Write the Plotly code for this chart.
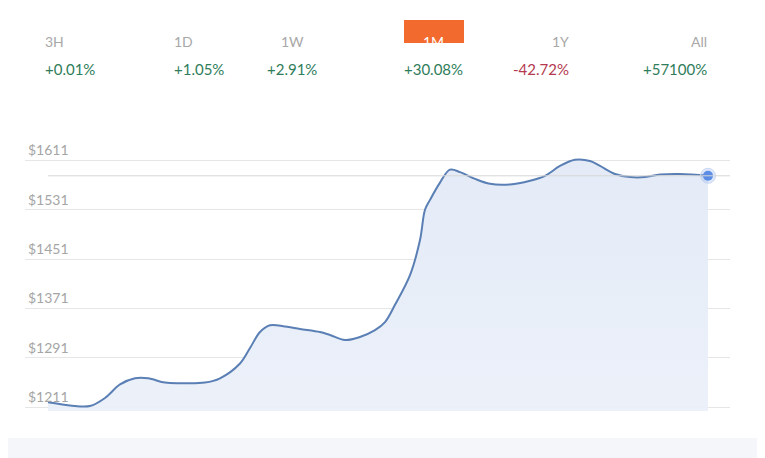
import plotly.graph_objects as go

# price history (x = time step, y = price in $)
steps = [48, 70, 90, 105, 120, 135, 148, 165, 180, 205, 220, 240, 250, 260, 270, 285,
         300, 320, 330, 345, 360, 375, 385, 395, 410, 420, 425, 430, 440, 450, 460,
         475, 490, 510, 530, 545, 560, 575, 590, 600, 615, 630, 645, 660, 680, 708]
prices = [1219, 1214, 1213, 1226, 1248, 1258, 1258, 1251, 1250, 1251, 1258, 1282,
          1307, 1333, 1344, 1342, 1338, 1333, 1328, 1320, 1325, 1336, 1349, 1377,
          1425, 1482, 1531, 1547, 1575, 1596, 1592, 1581, 1573, 1572, 1578, 1586,
          1602, 1612, 1610, 1602, 1589, 1584, 1584, 1588, 1589, 1586]

tick_vals = [1211, 1291, 1371, 1451, 1531, 1611, 1691]
tick_text = ["$" + str(v) for v in tick_vals]

periods = ["3H", "1D", "1W", "1M", "1Y", "All"]
changes = ["+0.01%", "+1.05%", "+2.91%", "+30.08%", "-42.72%", "+57100%"]
active = "1M"


def px(x):
    return (x - 25) / 705


def py(y):
    return (411 - y) / 300


fig = go.Figure()
fig.add_trace(go.Scatter(
    x=steps, y=prices, mode="lines", line=dict(color="#5a7fb5", width=2, shape="spline"),
    fill="tozeroy",
    fillgradient=dict(type="vertical", colorscale=[[0, "rgba(255,255,255,0)"], [0.3, "rgba(245,248,252,0.8)"],
                                                   [1, "rgba(228,235,247,1)"]]),
    hoverinfo="skip"))
fig.add_trace(go.Scatter(
    x=[steps[-1]], y=[prices[-1]], mode="markers",
    marker=dict(size=15, color="rgba(91,141,230,0.2)", line=dict(color="#c9d8f3", width=1)),
    hoverinfo="skip"))
fig.add_trace(go.Scatter(
    x=[steps[-1]], y=[prices[-1]], mode="markers",
    marker=dict(size=10, color="#5b8de6"), hoverinfo="skip"))

fig.add_shape(type="line", xref="x", yref="y", x0=steps[0], x1=730,
              y0=prices[-1], y1=prices[-1], line=dict(color="#d6d6d6", width=1))
fig.add_shape(type="rect", xref="paper", yref="paper", x0=px(-10), x1=px(780), y0=py(438), y1=py(460),
              fillcolor="#f4f6f9", line_width=0, layer="below")

xs = [43, 172, 292, 434, 571, 709]
for i, (p, c) in enumerate(zip(periods, changes)):
    if p == active:
        fig.add_shape(type="rect", xref="paper", yref="paper",
                      x0=px(404), x1=px(464), y0=py(43), y1=py(20),
                      fillcolor="#f26a2e", line_width=0, layer="below")
    fig.add_annotation(x=px(xs[i]), y=py(31), xref="paper", yref="paper",
                       text=p, showarrow=False,
                       font=dict(size=14, color="white" if p == active else "#a8a8a8"))
    fig.add_annotation(x=px(xs[i]), y=py(58), xref="paper", yref="paper",
                       text=c, showarrow=False,
                       font=dict(size=15, color="#b5394f" if c.startswith("-") else "#2f7d5a"))

fig.update_layout(
    width=757, height=450, margin=dict(l=17, r=35, t=103, b=47),
    paper_bgcolor="white", plot_bgcolor="rgba(0,0,0,0)", showlegend=False,
    font=dict(family="Lato, DejaVu Sans, sans-serif"),
    xaxis=dict(range=[25, 730], visible=False),
    yaxis=dict(range=[1205, 1691], tickvals=tick_vals, ticktext=tick_text,
               ticklabelposition="inside", ticklabelshift=-10, ticklabelstandoff=0,
               tickfont=dict(size=14, color="#a5a5a5"),
               gridcolor="#e6e6e6", zeroline=False, showline=False),
)
fig.write_html("out.html")
